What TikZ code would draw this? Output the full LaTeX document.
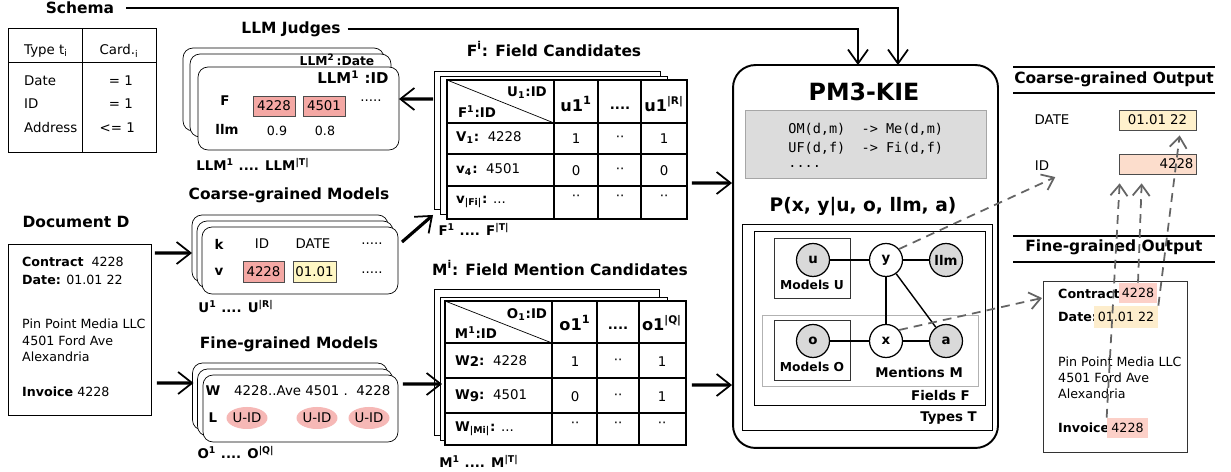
\documentclass[tikz,border=0pt]{standalone}
\usepackage{fontspec}
\setmainfont{DejaVu Sans}
\setmonofont{DejaVu Sans Mono}
\usetikzlibrary{arrows.meta}
\usetikzlibrary{calc}
\usetikzlibrary{shapes.geometric}
\definecolor{idred}{RGB}{244,168,164}
\definecolor{dateyel}{RGB}{255,247,196}
\definecolor{uidpink}{RGB}{246,184,182}
\definecolor{outyel}{RGB}{255,241,204}
\definecolor{outpeach}{RGB}{252,221,204}
\definecolor{hlpink}{RGB}{252,208,200}
\definecolor{hlyel}{RGB}{253,237,204}
\definecolor{rulegray}{RGB}{220,220,220}
\definecolor{dashgray}{RGB}{100,100,100}

\newcommand{\headfont}{\fontsize{8.8}{10}\selectfont\bfseries}
\newcommand{\smallfont}{\fontsize{7.2}{8.6}\selectfont}
\newcommand{\cellfont}{\fontsize{7.6}{9}\selectfont}
\newcommand{\colfont}{\fontsize{9.2}{11}\selectfont\bfseries}

\begin{document}
\begin{tikzpicture}[x=0.02cm, y=-0.02cm, font=\smallfont]
	\tikzstyle{plainbox}=[draw, fill=white, inner sep=0pt, outer sep=0pt]
	\tikzstyle{stackbox}=[plainbox, rounded corners=0.2cm]
	\tikzstyle{head}=[font=\headfont, inner sep=1pt]
	\tikzstyle{hl}=[draw=black!70, inner sep=0pt, minimum height=0.4cm, font=\cellfont]
	\tikzstyle{uid}=[ellipse, fill=uidpink, minimum width=0.82cm, minimum height=0.44cm, inner sep=0pt, font=\cellfont]
	\tikzstyle{tabline}=[line width=0.8pt]
	\tikzstyle{feed}=[line width=1.8pt, -{Straight Barb[length=2.8mm,width=4.4mm,line width=1pt]}]
	\tikzstyle{link}=[line width=1.5pt, -{Straight Barb[length=2.8mm,width=4mm,line width=1pt]}]
	\tikzstyle{trace}=[dashgray, line width=1pt, dash pattern=on 5pt off 3.5pt, -{Straight Barb[length=2.2mm,width=3.4mm]}]
	\tikzstyle{var}=[circle, draw, line width=0.7pt, fill=white, minimum size=0.66cm, inner sep=0pt, font=\bfseries\cellfont]
	\tikzstyle{obs}=[var, fill=black!15]
	\tikzstyle{plate}=[draw, inner sep=0pt, outer sep=0pt]
	\tikzstyle{rule}=[anchor=west, inner sep=0pt, font=\ttfamily\fontsize{7.7}{9}\selectfont]

	\useasboundingbox (0,0) rectangle (1231,472);

	% schema: types and cardinalities
	\node at (80,8) [head] (schema) {Schema};
	\node at (82,90) [plainbox, minimum width=2.96cm, minimum height=2.48cm] (types) {};
	\draw (types.north) -- (types.south);
	\draw (8,62) -- (156,62);
	\node at (46,51) [font=\cellfont] (thead) {Type t\textsubscript{i}};
	\node at (119,51) [font=\cellfont] (chead) {Card.\textsubscript{i}};
	\node at (18,81) [anchor=west, font=\cellfont] (tdate) {Date};
	\node at (18,104) [anchor=west, font=\cellfont] (tid) {ID};
	\node at (18,128) [anchor=west, font=\cellfont] (taddr) {Address};
	\node at (139,81) [anchor=east, font=\cellfont] (cdate) {= 1};
	\node at (139,104) [anchor=east, font=\cellfont] (cid) {= 1};
	\node at (141,128) [anchor=east, font=\cellfont] (caddr) {<= 1};

	% LLM judges
	\node at (291,29) [head] (judges) {LLM Judges};
	\node at (283.5,89.5) [stackbox, minimum width=4.02cm, minimum height=1.66cm] (llm0) {};
	\node at (290.5,95.5) [stackbox, minimum width=4.02cm, minimum height=1.66cm] (llm1) {};
	\node at (298.5,108.5) [stackbox, minimum width=4.02cm, minimum height=1.66cm] (llm2) {};
	\node at (337,60) [font=\bfseries\fontsize{7}{8}\selectfont, inner sep=0pt] (llmdate) {LLM\textsuperscript{2}\,:Date};
	\node at (353,77) [font=\bfseries\fontsize{8.5}{10}\selectfont] (llmid) {LLM\textsuperscript{1} :ID};
	\node at (225,101) [font=\bfseries\cellfont] (llmf) {F};
	\node at (274,106) [hl, fill=idred, minimum width=0.84cm] (llmv1) {4228};
	\node at (324,106) [hl, fill=idred, minimum width=0.84cm] (llmv2) {4501};
	\node at (371,101) [font=\cellfont] (llmdots) {.....};
	\node at (227,129) [font=\bfseries\cellfont] (llmrow) {llm};
	\node at (277,131) (llms1) {0.9};
	\node at (325,131) (llms2) {0.8};
	\node at (253,164) [font=\bfseries\cellfont] (llmrange) {LLM\textsuperscript{1} .... LLM\textsuperscript{|T|}};

	% coarse-grained models
	\node at (289,195) [head] (coarse) {Coarse-grained Models};
	\node at (290,248.5) [stackbox, minimum width=3.92cm, minimum height=1.34cm] (cm0) {};
	\node at (295,254.5) [stackbox, minimum width=3.92cm, minimum height=1.34cm] (cm1) {};
	\node at (300,260.5) [stackbox, minimum width=3.92cm, minimum height=1.34cm] (cm2) {};
	\node at (219,244) [font=\bfseries\cellfont] (cmk) {k};
	\node at (262,244) [font=\cellfont] (cmkid) {ID};
	\node at (313,244) [font=\cellfont] (cmkdate) {DATE};
	\node at (372,244) [font=\cellfont] (cmkdots) {.....};
	\node at (219,272) [font=\bfseries\cellfont] (cmv) {v};
	\node at (263.5,271.5) [hl, fill=idred, minimum width=0.82cm, minimum height=0.42cm] (cmvid) {4228};
	\node at (314.5,271.5) [hl, fill=dateyel, minimum width=0.86cm, minimum height=0.42cm] (cmvdate) {01.01};
	\node at (372,273) [font=\cellfont] (cmvdots) {.....};
	\node at (236,307) [font=\bfseries\cellfont] (cmrange) {U\textsuperscript{1} .... U\textsuperscript{|R|}};

	% fine-grained models
	\node at (289,344) [head] (fine) {Fine-grained Models};
	\node at (290,396.5) [stackbox, minimum width=3.9cm, minimum height=1.34cm] (fm0) {};
	\node at (295,402.5) [stackbox, minimum width=3.9cm, minimum height=1.34cm] (fm1) {};
	\node at (300.5,408.5) [stackbox, minimum width=3.9cm, minimum height=1.34cm] (fm2) {};
	\node at (213,391) [font=\bfseries\cellfont] (fmw) {W};
	\node at (228,391) [anchor=west, font=\cellfont] (fmwords) {4228..Ave 4501 .\ \ 4228};
	\node at (213,418) [font=\bfseries\cellfont] (fml) {L};
	\node at (247,418) [uid] (fmu1) {U-ID};
	\node at (317,418) [uid] (fmu2) {U-ID};
	\node at (369,418) [uid] (fmu3) {U-ID};
	\node at (236,453) [font=\bfseries\cellfont] (fmrange) {O\textsuperscript{1} .... O\textsuperscript{|Q|}};

	% input document
	\node at (76,222) [head] (dochead) {Document D};
	\node at (79.5,329.5) [plainbox, minimum width=2.86cm, minimum height=3.42cm] (doc) {};
	\node at (16,262) [anchor=west] (doccon) {\textbf{Contract}\ \ 4228};
	\node at (16,280) [anchor=west] (docdate) {\textbf{Date:} 01.01 22};
	\node at (16,324) [anchor=west] (docname) {Pin Point Media LLC};
	\node at (16,341) [anchor=west] (docstreet) {4501 Ford Ave};
	\node at (16,357) [anchor=west] (doccity) {Alexandria};
	\node at (16,392) [anchor=west] (docinv) {\textbf{Invoice} 4228};

	% field candidates
	\node at (554,49) [head] (fchead) {F\textsuperscript{i}: Field Candidates};
	\node at (547,140) [plainbox, minimum width=4.52cm, minimum height=2.76cm] (fc0) {};
	\node at (553.5,145) [plainbox, minimum width=4.54cm, minimum height=2.76cm] (fc1) {};
	\node at (567,149.5) [plainbox, tabline, minimum width=4.8cm, minimum height=2.78cm] (fc2) {};
	\foreach \c in {554,598,641} \draw[tabline] (\c,80) -- (\c,219);
	\foreach \r in {123,154,186} \draw[tabline] (447,\r) -- (687,\r);
	\draw (447,80) -- (554,123);
	\node at (527,93) [font=\bfseries\cellfont] (fcu) {U\textsubscript{1}:ID};
	\node at (477,112) [font=\bfseries\cellfont] (fcf) {F\textsuperscript{1}:ID};
	\node at (576,104) [font=\colfont] (fcc1) {u1\textsuperscript{1}};
	\node at (620,108) [font=\bfseries\cellfont] (fcc2) {....};
	\node at (664,104) [font=\colfont] (fcc3) {u1\textsuperscript{\fontsize{6}{7}\selectfont|R|}};
	\node at (450,138) [anchor=west, font=\cellfont] (fcr1) {\textbf{V\textsubscript{1}:}\ \ 4228};
	\node at (576,139) [font=\cellfont] (fc11) {1};
	\node at (620,139) [font=\cellfont] (fc12) {··};
	\node at (664,139) [font=\cellfont] (fc13) {1};
	\node at (450,170) [anchor=west, font=\cellfont] (fcr2) {\textbf{v\textsubscript{4}:}\ \ 4501};
	\node at (576,171) [font=\cellfont] (fc21) {0};
	\node at (620,171) [font=\cellfont] (fc22) {··};
	\node at (664,171) [font=\cellfont] (fc23) {0};
	\node at (450,202) [anchor=west, font=\cellfont] (fcr3) {\textbf{v\textsubscript{|Fi|}:} ...};
	\node at (576,198) [font=\cellfont] (fc31) {··};
	\node at (620,198) [font=\cellfont] (fc32) {··};
	\node at (664,198) [font=\cellfont] (fc33) {··};
	\node at (474,229) [font=\bfseries\cellfont] (fcrange) {F\textsuperscript{1} .... F\textsuperscript{|T|}};

	% field mention candidates
	\node at (560,268) [head] (mchead) {M\textsuperscript{i}: Field Mention Candidates};
	\node at (546.5,362) [plainbox, minimum width=4.5cm, minimum height=2.92cm] (mc0) {};
	\node at (553.5,368.5) [plainbox, minimum width=4.54cm, minimum height=2.86cm] (mc1) {};
	\node at (565.5,373) [plainbox, tabline, minimum width=4.82cm, minimum height=2.88cm] (mc2) {};
	\foreach \c in {552,597,639} \draw[tabline] (\c,301) -- (\c,445);
	\foreach \r in {343,378,413} \draw[tabline] (445,\r) -- (686,\r);
	\draw (445,301) -- (552,343);
	\node at (527,315) [font=\bfseries\cellfont] (mco) {O\textsubscript{1}:ID};
	\node at (476,333) [font=\bfseries\cellfont] (mcm) {M\textsuperscript{1}:ID};
	\node at (575,323) [font=\colfont] (mcc1) {o1\textsuperscript{1}};
	\node at (618,328) [font=\bfseries\cellfont] (mcc2) {....};
	\node at (662,323) [font=\colfont] (mcc3) {o1\textsuperscript{\fontsize{6}{7}\selectfont|Q|}};
	\node at (449,361) [anchor=west, font=\cellfont] (mcr1) {\textbf{W\raisebox{-0.25ex}{2}:}\ \ 4228};
	\node at (575,362) [font=\cellfont] (mc11) {1};
	\node at (618,362) [font=\cellfont] (mc12) {··};
	\node at (662,362) [font=\cellfont] (mc13) {1};
	\node at (449,396) [anchor=west, font=\cellfont] (mcr2) {\textbf{W\raisebox{-0.25ex}{9}:}\ \ 4501};
	\node at (575,397) [font=\cellfont] (mc21) {0};
	\node at (618,397) [font=\cellfont] (mc22) {··};
	\node at (662,397) [font=\cellfont] (mc23) {1};
	\node at (449,429) [anchor=west, font=\cellfont] (mcr3) {\textbf{W\textsubscript{|Mi|}:} ...};
	\node at (575,425) [font=\cellfont] (mc31) {··};
	\node at (618,425) [font=\cellfont] (mc32) {··};
	\node at (662,425) [font=\cellfont] (mc33) {··};
	\node at (479,461) [font=\bfseries\cellfont] (mcrange) {M\textsuperscript{1} .... M\textsuperscript{|T|}};

	% PM3-KIE model
	\node at (865.5,256.5) [plainbox, rounded corners=0.45cm, line width=1.1pt, minimum width=5.3cm, minimum height=7.66cm] (pm) {};
	\node at (864,92) [font=\bfseries\fontsize{13.5}{15}\selectfont] (pmtitle) {PM3-KIE};
	\node at (865.5,144) [plainbox, fill=rulegray, draw=black!35, minimum width=4.82cm, minimum height=1.36cm] (rules) {};
	\node at (788,129) [rule] (rule1) {OM(d,m)\ \ -> Me(d,m)};
	\node at (788,148) [rule] (rule2) {UF(d,f)\ \ -> Fi(d,f)};
	\node at (788,166) [rule] (rule3) {....};
	\node at (863,207) [font=\bfseries\fontsize{10.6}{12}\selectfont] (joint) {P(x, y|u, o, llm, a)};

	\node at (867,327) [plate, minimum width=5cm, minimum height=4.12cm] (ptypes) {};
	\node at (869.5,318) [plate, minimum width=4.62cm, minimum height=3.48cm] (pfields) {};
	\node at (812,268) [plate, draw=black!80, minimum width=1.52cm, minimum height=1.2cm] (pmodu) {};
	\node at (870,350.5) [plate, draw=black!30, minimum width=4.32cm, minimum height=1.42cm] (pments) {};
	\node at (812,350) [plate, draw=black!80, minimum width=1.52cm, minimum height=1.2cm] (pmodo) {};
	\node at (983,418) [anchor=east, font=\bfseries\cellfont] (ltypes) {Types T};
	\node at (976,396) [anchor=east, font=\bfseries\cellfont] (lfields) {Fields F};
	\node at (812,285) [font=\bfseries\fontsize{7}{8}\selectfont] (lmodu) {Models U};
	\node at (969,373) [anchor=east, font=\bfseries\cellfont] (lments) {Mentions M};
	\node at (812,367) [font=\bfseries\fontsize{7}{8}\selectfont] (lmodo) {Models O};

	\node at (813,260) [obs] (nu) {u};
	\node at (886,260) [var] (ny) {y};
	\node at (946,260) [obs] (nllm) {llm};
	\node at (813,341) [obs] (no) {o};
	\node at (886,341) [var] (nx) {x};
	\node at (946,341) [obs] (na) {a};
	\draw[line width=0.8pt] (nu) -- (ny);
	\draw[line width=0.8pt] (ny) -- (nllm);
	\draw[line width=0.8pt] (ny) -- (nx);
	\draw[line width=0.8pt] (ny) -- (na);
	\draw[line width=0.8pt] (no) -- (nx);
	\draw[line width=0.8pt] (nx) -- (na);

	% coarse-grained output
	\node at (1114,79) [head] (cohead) {Coarse-grained Output};
	\draw[line width=1pt] (1013,67) -- (1215,67);
	\draw[line width=1pt] (1013,93) -- (1215,93);
	\node at (1052,120) [font=\cellfont] (ldate) {DATE};
	\node at (1042,166) [font=\cellfont] (lid) {ID};
	\node at (1157.5,120) [hl, fill=outyel, minimum width=1.54cm] (odate) {01.01 22};
	\node at (1157.5,164) [hl, fill=outpeach, minimum width=1.54cm, text width=1.44cm, align=right] (oid) {4228};

	% fine-grained output
	\node at (1114,247) [head] (fohead) {Fine-grained Output};
	\draw[line width=1pt] (1013,236) -- (1215,236);
	\draw[line width=1pt] (1013,262) -- (1215,262);
	\node at (1115,366.5) [plainbox, draw=black!80, minimum width=2.88cm, minimum height=3.42cm] (fdoc) {};
	\node at (1052,294) [anchor=west, font=\bfseries\smallfont] (fcon) {Contract};
	\node at (1138,293) [fill=hlpink, inner sep=0pt, minimum width=0.76cm, minimum height=0.4cm] (hcon) {4228};
	\node at (1052,317) [anchor=west, font=\bfseries\smallfont] (fdate) {Date:};
	\node at (1126,317) [fill=hlyel, inner sep=0pt, minimum width=1.28cm, minimum height=0.44cm] (hdate) {01.01 22};
	\node at (1052,362) [anchor=west] (fname) {Pin Point Media LLC};
	\node at (1052,378) [anchor=west] (fstreet) {4501 Ford Ave};
	\node at (1052,394) [anchor=west] (fcity) {Alexandria};
	\node at (1052,428) [anchor=west, font=\bfseries\smallfont] (finv) {Invoice};
	\node at (1127.5,428) [fill=hlpink, inner sep=0pt, minimum width=0.82cm, minimum height=0.4cm] (hinv) {4228};

	% flow between the parts
	\draw[link] ($(schema.east)+(10,0)$) -| ($(pm.north)+(32.5,0)$);
	\draw[link] ($(judges.east)+(5,0)$) -| ($(pm.north)+(-7.5,0)$);
	\draw[feed] ($(doc.north east)+(4,9)$) -- ($(cm0.north west)+(0,38)$);
	\draw[feed] ($(doc.south east)+(6,-32)$) -- ($(fm0.north west)+(1,20)$);
	\draw[feed] ($(cm2.north east)+(4,15)$) -- ($(fc0.south west)+(-1,6)$);
	\draw[feed] ($(fc0.north west)+(-1,28)$) -- ($(llm2.north east)+(0,32)$);
	\draw[feed] ($(fc2.north east)+(5,103)$) -- ($(pm.north west)+(-1,118)$);
	\draw[feed] ($(fm2.north east)+(5,9)$) -- ($(mc1.north west)+(2,87)$);
	\draw[feed] ($(mc2.north east)+(6,84)$) -- ($(pm.north west)+(-1,320)$);

	\draw[trace] (ny.40) -- (lid.south east);
	\draw[trace] (nx.40) -- ($(fdoc.north west)+(-1,17)$);
	\draw[trace] (hinv.north west) -- ($(oid.south west)+(1,9)$);
	\draw[trace] (hcon.north) -- ($(oid.south west)+(23,9)$);
	\draw[trace] (hdate.north east) -- ($(odate.south west)+(61,5)$);
\end{tikzpicture}
\end{document}
